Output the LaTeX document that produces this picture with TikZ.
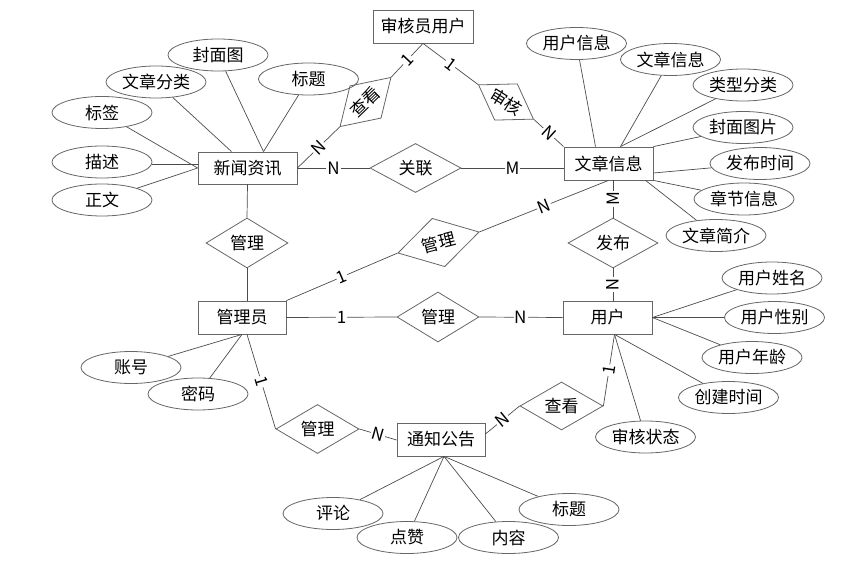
\documentclass[tikz,border=0pt]{standalone}
\usepackage{fontspec}
\setmainfont{Noto Sans CJK SC}
\usetikzlibrary{shapes.geometric,positioning}

\begin{document}
\begin{tikzpicture}[x=1pt,y=-1pt,
            every node/.style={font=\fontsize{17}{20}\selectfont},
            entity/.style={draw=black!60,line width=0.8pt,rectangle,minimum width=89pt,minimum height=33pt,inner sep=0pt},
            attr/.style={draw=black!60,line width=0.8pt,ellipse,minimum width=100pt,minimum height=32pt,inner sep=0pt},
            rel/.style={draw=black!60,line width=0.8pt,diamond,aspect=1.6,minimum width=82pt,minimum height=50pt,inner sep=0pt},
            card/.style={fill=white,inner sep=1pt,sloped},
            ln/.style={draw=black!70,line width=0.7pt}]
            \useasboundingbox (0,0) rectangle (849,572);
            \node[entity,minimum width=100pt] (shy) at (423,26.5) {审核员用户};
            \node[entity,minimum width=99pt,minimum height=32pt] (xw) at (247.5,168) {新闻资讯};
            \node[entity] (wz) at (608.5,163.5) {文章信息};
            \node[entity,minimum width=88pt] (gly) at (242,317.5) {管理员};
            \node[entity] (yh) at (607.5,317.5) {用户};
            \node[entity,minimum width=88pt] (tz) at (441,439.5) {通知公告};

            \node[rel,minimum width=71pt,minimum height=45pt,rotate=44] (ck) at (365.5,102) {查看};
            \node[rel,minimum width=65pt,minimum height=43pt,rotate=-32] (sh) at (506,102) {审核};
            \node[rel,minimum width=91pt,minimum height=49pt] (gl) at (415.5,168) {关联};
            \node[rel] (glxw) at (247,243) {管理};
            \node[rel,minimum width=84pt,rotate=14.5] (glwz) at (438.5,242.5) {管理};
            \node[rel,minimum width=90pt] (fb) at (613,243) {发布};
            \node[rel] (glyh) at (438,317) {管理};
            \node[rel,minimum width=83pt,minimum height=49pt] (gltz) at (317.5,429) {管理};
            \node[rel,minimum width=83pt,minimum height=48pt] (ckyh) at (561.5,406) {查看};

            \node[attr] (fmt) at (218,55) {封面图};
            \node[attr] (wzfl) at (156,82) {文章分类};
            \node[attr] (bt) at (308.5,79) {标题};
            \node[attr] (bq) at (102,112.5) {标签};
            \node[attr] (ms) at (102,162) {描述};
            \node[attr] (zw) at (102,200) {正文};

            \node[attr] (yhxx) at (576.5,43.5) {用户信息};
            \node[attr] (wzxx) at (670.5,59.5) {文章信息};
            \node[attr] (lxfl) at (743,85) {类型分类};
            \node[attr] (fmtp) at (743,127.5) {封面图片};
            \node[attr] (fbsj) at (760,163.5) {发布时间};
            \node[attr] (zjxx) at (744,199) {章节信息};
            \node[attr] (wzjj) at (716,235.5) {文章简介};

            \node[attr] (yhxm) at (772,278) {用户姓名};
            \node[attr] (yhxb) at (774.5,317.5) {用户性别};
            \node[attr] (yhnl) at (752,357.5) {用户年龄};
            \node[attr] (cjsj) at (728.5,397.5) {创建时间};
            \node[attr] (shzt) at (645.5,437) {审核状态};

            \node[attr] (zh) at (131,367.5) {账号};
            \node[attr] (mm) at (198,394) {密码};

            \node[attr] (pl) at (333,513.5) {评论};
            \node[attr] (dz) at (407,537.5) {点赞};
            \node[attr] (nr) at (508.5,537.5) {内容};
            \node[attr] (tzbt) at (569,509.5) {标题};

            \draw[ln] (fmt) -- ([xshift=16pt]xw.north);
            \draw[ln] (bt) -- ([xshift=16pt]xw.north);
            \draw[ln] (wzfl) -- ([xshift=-16pt]xw.north);
            \draw[ln] (bq) -- (xw.west);
            \draw[ln] ([yshift=-2pt]ms.east) -- ([yshift=-2pt]ms.east -| xw.west);
            \draw[ln] (zw) -- (xw.west);

            \draw[ln] (yhxx) -- ([xshift=-13pt]wz.north);
            \draw[ln] (wzxx) -- ([xshift=12pt]wz.north);
            \draw[ln] (lxfl) -- ([xshift=12pt]wz.north);
            \draw[ln] (fmtp) -- (wz.north east);
            \draw[ln] (fbsj) -- ([yshift=-9.5pt]wz.east);
            \draw[ln] (zjxx) -- (wz.south east);
            \draw[ln] (wzjj) -- ([xshift=37pt]wz.south);

            \draw[ln] (yhxm) -- (yh.east);
            \draw[ln] (yhxb) -- (yh.east);
            \draw[ln] (yhnl) -- (yh.east);
            \draw[ln] (cjsj) -- ([xshift=7pt]yh.south);
            \draw[ln] (shzt) -- ([xshift=7pt]yh.south);

            \draw[ln] (zh) -- (gly.south);
            \draw[ln] (mm) -- (gly.south);

            \draw[ln] (pl) -- ([xshift=3pt]tz.south);
            \draw[ln] (dz) -- ([xshift=3pt]tz.south);
            \draw[ln] (nr) -- ([xshift=3pt]tz.south);
            \draw[ln] (tzbt) -- ([xshift=3pt]tz.south);

            \draw[ln] (xw.east) -- node[card]{N} (ck.west);
            \draw[ln] (ck.east) -- node[card]{1} (shy.south);
            \draw[ln] (shy.south) -- node[card]{1} (sh.west);
            \draw[ln] (sh.east) -- node[card]{N} (wz.north west);
            \draw[ln] (xw.east) -- node[card]{N} (gl.west);
            \draw[ln] (gl.east) -- node[card]{M} (gl.east -| wz.west);
            \draw[ln] (xw.south) -- (glxw.north);
            \draw[ln] (glxw.south) -- (glxw.south |- gly.north);
            \draw[ln] (gly.north east) -- node[card]{1} (glwz.west);
            \draw[ln] (glwz.east) -- node[card]{N} (wz.south);
            \draw[ln] (fb.north) -- node[card]{M} (fb.north |- wz.south);
            \draw[ln] (fb.south) -- node[card]{N} (fb.south |- yh.north);
            \draw[ln] (gly.east) -- node[card]{1} (glyh.west);
            \draw[ln] (glyh.east) -- node[card]{N} (yh.west);
            \draw[ln] ([xshift=5pt]gly.south) -- node[card]{1} (gltz.west);
            \draw[ln] (gltz.east) -- node[card]{N} ([yshift=-0.5pt]tz.west);
            \draw[ln] ([yshift=5.5pt]tz.east) -- node[card]{N} (ckyh.west);
            \draw[ln] (ckyh.east) -- node[card]{1} ([xshift=7pt]yh.south);
        \end{tikzpicture}
\end{document}
